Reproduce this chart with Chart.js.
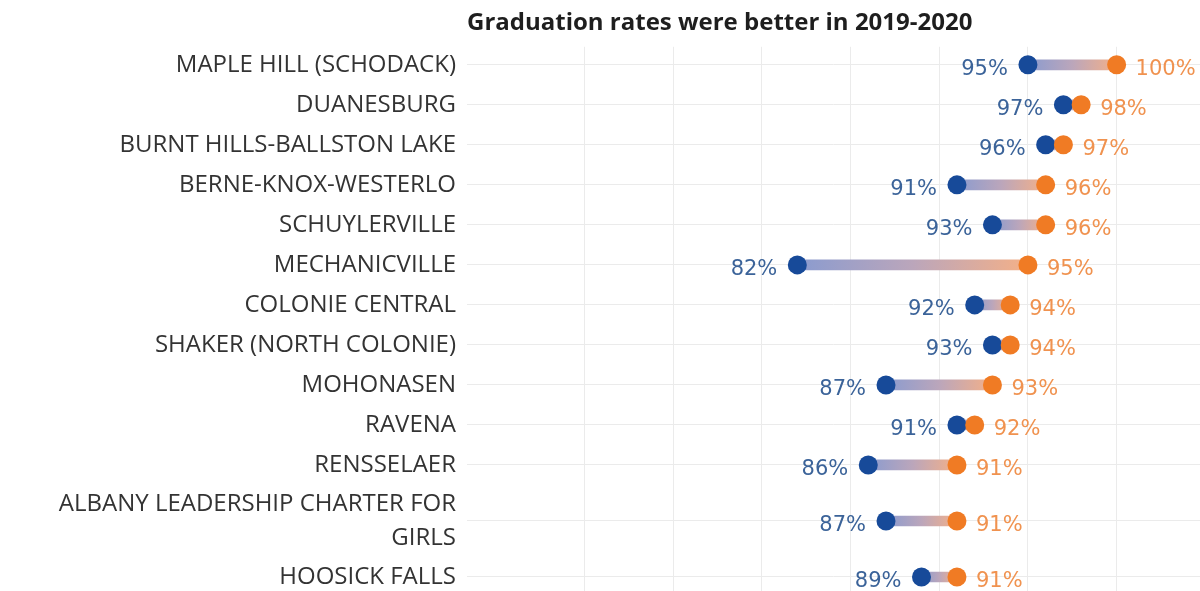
<!DOCTYPE html>
<html>
<head>
<meta charset="utf-8">
<script src="https://cdn.jsdelivr.net/npm/chart.js@4"></script>
<style>
  html, body { margin: 0; padding: 0; background: #fff; overflow: hidden; }
  #wrap { width: 1200px; height: 591px; }
</style>
</head>
<body>
<div id="wrap"><canvas id="myChart"></canvas></div>
<script>
// school districts, top to bottom (arrays = multi-line labels)
const districts = [
    'MAPLE HILL (SCHODACK)',
    'DUANESBURG',
    'BURNT HILLS-BALLSTON LAKE',
    'BERNE-KNOX-WESTERLO',
    'SCHUYLERVILLE',
    'MECHANICVILLE',
    'COLONIE CENTRAL',
    'SHAKER (NORTH COLONIE)',
    'MOHONASEN',
    'RAVENA',
    'RENSSELAER',
    ['ALBANY LEADERSHIP CHARTER FOR', 'GIRLS'],
    'HOOSICK FALLS'
];
// graduation rate, 2018-2019 (blue)
const rate2019 = [95, 97, 96, 91, 93, 82, 92, 93, 87, 91, 86, 87, 89];
// graduation rate, 2019-2020 (orange)
const rate2020 = [100, 98, 97, 96, 96, 95, 94, 94, 93, 92, 91, 91, 91];

const titleText = 'Graduation rates were better in 2019-2020';

const BLUE = '#174a99';
const ORANGE = '#f07b24';

// rows with two-line labels get a bit more room
const half = districts.map(d => Array.isArray(d) ? 0.9 : 0.5);
const rowPos = [];
districts.forEach((d, i) => {
    rowPos.push(i === 0 ? 0 : rowPos[i - 1] + half[i - 1] + half[i]);
});

const valueLabels = {
    id: 'valueLabels',
    afterDatasetsDraw(chart) {
        const ctx = chart.ctx;
        ctx.save();
        ctx.font = '21px "DejaVu Sans"';
        ctx.textBaseline = 'middle';
        const blue = chart.getDatasetMeta(1);
        const orange = chart.getDatasetMeta(2);
        ctx.fillStyle = '#3b6399';
        ctx.textAlign = 'right';
        blue.data.forEach((el, i) => {
            ctx.fillText(rate2019[i] + '%', el.x - 20, el.y + 5);
        });
        ctx.fillStyle = '#f0924f';
        ctx.textAlign = 'left';
        orange.data.forEach((el, i) => {
            ctx.fillText(rate2020[i] + '%', el.x + 19, el.y + 5);
        });
        ctx.restore();
    }
};

function barGradient(c) {
    const chart = c.chart;
    const xs = chart.scales.x;
    if (!xs || c.dataIndex === undefined) return '#bba6bb';
    const x0 = xs.getPixelForValue(rate2019[c.dataIndex]);
    const x1 = xs.getPixelForValue(rate2020[c.dataIndex]);
    if (!isFinite(x0) || !isFinite(x1) || x0 === x1) return '#bba6bb';
    const g = chart.ctx.createLinearGradient(x0, 0, x1, 0);
    g.addColorStop(0, '#8a9bcf');
    g.addColorStop(0.5, '#bba6bb');
    g.addColorStop(1, '#f4b088');
    return g;
}

const ctx = document.getElementById('myChart').getContext('2d');
const myChart = new Chart(ctx, {
    type: 'scatter',
    data: {
        datasets: [{
            type: 'bar',
            indexAxis: 'y',
            data: rate2019.map((v, i) => ({x: [v, rate2020[i]], y: rowPos[i]})),
            backgroundColor: barGradient,
            borderWidth: 0,
            borderSkipped: false,
            barThickness: 10,
            order: 3
        },
        {
            label: '2018-2019',
            data: rate2019.map((v, i) => ({x: v, y: rowPos[i]})),
            backgroundColor: BLUE,
            borderWidth: 0,
            pointRadius: 9.5,
            pointHoverRadius: 9.5,
            order: 2
        },
        {
            label: '2019-2020',
            data: rate2020.map((v, i) => ({x: v, y: rowPos[i]})),
            backgroundColor: ORANGE,
            borderWidth: 0,
            pointRadius: 9.5,
            pointHoverRadius: 9.5,
            order: 1
        }]
    },
    options: {
        responsive: true,
        maintainAspectRatio: false,
        animation: false,
        layout: { padding: 0, autoPadding: false },
        plugins: {
            legend: { display: false },
            tooltip: { enabled: false },
            title: {
                display: true,
                text: titleText,
                align: 'start',
                fullSize: false,
                color: '#1e1e1e',
                font: { family: '"Open Sans"', size: 24, weight: 'bold' },
                padding: { top: 9, bottom: 9 }
            }
        },
        scales: {
            x: {
                type: 'linear',
                position: 'bottom',
                min: 63.38,
                max: 104.7,
                beginAtZero: false,
                offset: false,
                afterBuildTicks: scale => {
                    scale.ticks = scale.ticks.filter(t => t.value % 5 === 0);
                },
                ticks: { display: false },
                grid: { color: '#ebebeb', drawTicks: false, offset: false },
                border: { display: false }
            },
            y: {
                type: 'linear',
                reverse: true,
                min: -0.45,
                max: rowPos[rowPos.length - 1] + 0.35,
                offset: false,
                afterBuildTicks: scale => {
                    scale.ticks = rowPos.map(v => ({value: v}));
                },
                afterFit: scale => {
                    scale.width = 467;
                    scale.paddingTop = 0;
                    scale.paddingBottom = 0;
                },
                ticks: {
                    autoSkip: false,
                    padding: 11,
                    color: '#333',
                    font: { family: '"Open Sans"', size: 24, lineHeight: 1.4 },
                    callback: (value, index) => districts[index]
                },
                grid: { color: '#ebebeb', drawTicks: false, offset: false },
                border: { display: false }
            }
        }
    },
    plugins: [valueLabels]
});
</script>
</body>
</html>
